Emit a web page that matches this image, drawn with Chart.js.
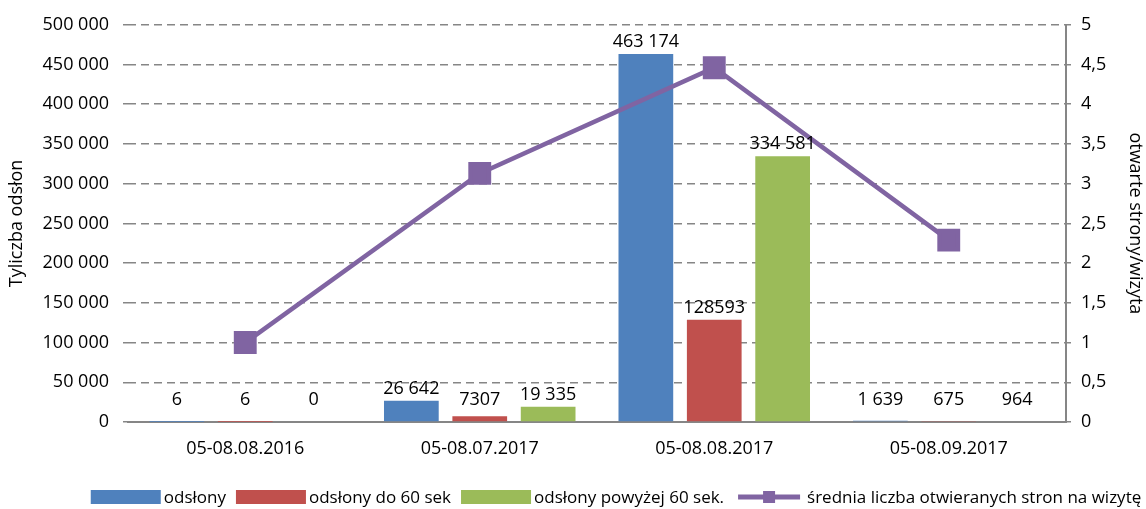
<!DOCTYPE html>
<html>
<head>
<meta charset="utf-8">
<script src="https://cdn.jsdelivr.net/npm/chart.js@4.4.1/dist/chart.umd.min.js"></script>
<style>
  html, body { margin: 0; padding: 0; background: #fff; }
  #wrap { width: 1146px; height: 509px; }
</style>
</head>
<body>
<div id="wrap"><canvas id="wykres"></canvas></div>
<script>
// dane wykresu
const kategorie = ['05-08.08.2016', '05-08.07.2017', '05-08.08.2017', '05-08.09.2017'];
const odslony = [6, 26642, 463174, 1639];
const odslonyDo60 = [6, 7307, 128593, 675];
const odslonyPowyzej60 = [0, 19335, 334581, 964];
const sredniaStron = [1.0, 3.13, 4.46, 2.29];

// etykiety nad słupkami (tak jak na oryginale)
const etykietyOdslony = ['6', '26 642', '463 174', '1 639'];
const etykietyDo60 = ['6', '7307', '128593', '675'];
const etykietyPowyzej60 = ['0', '19 335', '334 581', '964'];

const nazwySerii = ['odsłony', 'odsłony do 60 sek', 'odsłony powyżej 60 sek.', 'średnia liczba otwieranych stron na wizytę'];

const kolory = {
  niebieski: '#4F81BD',
  czerwony: '#C0504D',
  zielony: '#9BBB59',
  fiolet: '#8064A2',
  siatka: '#868686'
};

Chart.defaults.font.family = "'Open Sans', sans-serif";
Chart.defaults.color = '#000';

// Etykiety wartości nad słupkami
const etykietyPlugin = {
  id: 'etykiety',
  afterDatasetsDraw(chart) {
    const ctx = chart.ctx;
    const podstawa = chart.scales.y.getPixelForValue(0);
    ctx.save();
    ctx.font = "18px 'Open Sans', sans-serif";
    ctx.fillStyle = '#000';
    ctx.textAlign = 'center';
    ctx.textBaseline = 'alphabetic';
    chart.data.datasets.forEach((ds, i) => {
      if (!ds.etykiety) return;
      const meta = chart.getDatasetMeta(i);
      meta.data.forEach((bar, j) => {
        const y = Math.min(bar.y - 7, podstawa - 17);
        ctx.fillText(ds.etykiety[j], bar.x, y);
      });
    });
    ctx.restore();
  }
};

// Legenda rysowana ręcznie (prostokąty + linia ze znacznikiem)
const legendaPlugin = {
  id: 'legenda',
  afterDraw(chart) {
    const ctx = chart.ctx;
    const y = 497;
    const szerPudelka = 70;
    const wysPudelka = 14;
    const odstepTekst = 3;
    const odstepElem = 10;
    ctx.save();
    ctx.font = "17px 'Open Sans', sans-serif";
    ctx.textBaseline = 'middle';
    ctx.textAlign = 'left';

    const elementy = chart.data.datasets.map(ds => ({
      tekst: ds.label,
      kolor: ds.type === 'line' ? ds.borderColor : ds.backgroundColor,
      linia: ds.type === 'line'
    }));
    let calosc = 0;
    elementy.forEach((el, i) => {
      el.w = szerPudelka + odstepTekst + ctx.measureText(el.tekst).width;
      calosc += el.w + (i > 0 ? odstepElem : 0);
    });
    let x = 616 - calosc / 2;
    elementy.forEach(el => {
      if (el.linia) {
        ctx.strokeStyle = el.kolor;
        ctx.lineWidth = 5;
        ctx.beginPath();
        ctx.moveTo(x + 4, y);
        ctx.lineTo(x + szerPudelka - 4, y);
        ctx.stroke();
        ctx.fillStyle = el.kolor;
        ctx.fillRect(x + szerPudelka / 2 - 6, y - 6, 12, 12);
      } else {
        ctx.fillStyle = el.kolor;
        ctx.fillRect(x, y - wysPudelka / 2, szerPudelka, wysPudelka);
      }
      ctx.fillStyle = '#000';
      ctx.fillText(el.tekst, x + szerPudelka + odstepTekst, y + 1);
      x += el.w + odstepElem;
    });
    ctx.restore();
  }
};

const formatTys = v => String(v).replace(/\B(?=(\d{3})+(?!\d))/g, ' ');

new Chart(document.getElementById('wykres'), {
  data: {
    labels: kategorie,
    datasets: [
      {
        type: 'bar',
        label: nazwySerii[0],
        data: odslony,
        etykiety: etykietyOdslony,
        backgroundColor: kolory.niebieski,
        yAxisID: 'y',
        order: 1
      },
      {
        type: 'bar',
        label: nazwySerii[1],
        data: odslonyDo60,
        etykiety: etykietyDo60,
        backgroundColor: kolory.czerwony,
        yAxisID: 'y',
        order: 1
      },
      {
        type: 'bar',
        label: nazwySerii[2],
        data: odslonyPowyzej60,
        etykiety: etykietyPowyzej60,
        backgroundColor: kolory.zielony,
        yAxisID: 'y',
        order: 1
      },
      {
        type: 'line',
        label: nazwySerii[3],
        data: sredniaStron,
        yAxisID: 'y1',
        borderColor: kolory.fiolet,
        backgroundColor: kolory.fiolet,
        borderWidth: 4.5,
        pointStyle: 'rect',
        pointRadius: 13,
        pointHoverRadius: 13,
        tension: 0,
        order: 0
      }
    ]
  },
  options: {
    responsive: true,
    maintainAspectRatio: false,
    animation: false,
    datasets: {
      bar: { categoryPercentage: 0.875, barPercentage: 0.8 }
    },
    layout: { padding: { top: 22, bottom: 44, left: 0, right: 0 } },
    plugins: {
      legend: { display: false },
      tooltip: { enabled: false }
    },
    scales: {
      x: {
        offset: true,
        grid: { display: false, drawTicks: false },
        border: { display: true, color: kolory.siatka, width: 2 },
        ticks: { font: { size: 18 }, padding: 16, maxRotation: 0 },
        afterFit(scale) { scale.height = 43; }
      },
      y: {
        position: 'left',
        min: 0,
        max: 500000,
        grid: {
          color: kolory.siatka,
          lineWidth: 1.5,
          tickLength: 5,
          tickBorderDash: [],
          tickColor: kolory.siatka
        },
        border: { display: false, dash: [8, 5] },
        ticks: { stepSize: 50000, font: { size: 18 }, padding: 14, callback: v => formatTys(v) },
        title: { display: true, text: 'Tyliczba odsłon', font: { size: 18 }, padding: { top: 6, bottom: 0 } },
        afterFit(scale) { scale.width = 128; }
      },
      y1: {
        position: 'right',
        min: 0,
        max: 5,
        grid: { drawOnChartArea: false, color: kolory.siatka, tickLength: 5, lineWidth: 1.5 },
        border: { display: true, color: kolory.siatka, width: 2 },
        ticks: { stepSize: 0.5, font: { size: 18 }, padding: 10, callback: v => String(v).replace('.', ',') },
        title: { display: true, text: 'otwarte strony/wizyta', font: { size: 18 }, padding: { top: 0, bottom: 0 } },
        afterFit(scale) { scale.width = 80; }
      }
    }
  },
  plugins: [etykietyPlugin, legendaPlugin]
});
</script>
</body>
</html>
